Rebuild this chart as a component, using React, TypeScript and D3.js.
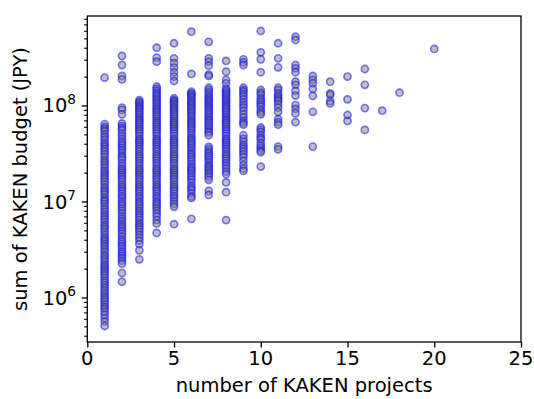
import { useEffect, useRef } from 'react';
import * as d3 from 'd3';

// budgets (JPY) per number of projects
const p1 = [1.95e8, 6.4e7, 6.0e7, 5.7e7, 5.4e7, 5.0e7, 4.7e7, 4.4e7, 4.1e7, 3.9e7, 3.7e7, 3.5e7, 3.3e7, 3.1e7, 2.9e7, 2.7e7, 2.55e7, 2.4e7, 2.25e7, 2.1e7, 2.0e7, 1.9e7, 1.8e7, 1.7e7, 1.6e7, 1.5e7, 1.4e7, 1.32e7, 1.25e7, 1.18e7, 1.1e7, 1.04e7, 1.0e7, 9.4e6, 8.8e6, 8.3e6, 7.8e6, 7.3e6, 6.9e6, 6.5e6, 6.1e6, 5.7e6, 5.4e6, 5.1e6, 4.8e6, 4.5e6, 4.2e6, 4.0e6, 3.8e6, 3.6e6, 3.4e6, 3.2e6, 3.0e6, 2.8e6, 2.65e6, 2.5e6, 2.35e6, 2.2e6, 2.1e6, 2.0e6, 1.9e6, 1.8e6, 1.7e6, 1.6e6, 1.5e6, 1.42e6, 1.34e6, 1.26e6, 1.19e6, 1.12e6, 1.06e6, 1.0e6, 9.5e5, 9.0e5, 8.5e5, 8.0e5, 7.6e5, 7.1e5, 6.6e5, 6.1e5, 5.6e5, 5.05e5];
const p2 = [3.28e8, 2.64e8, 2.03e8, 1.87e8, 9.5e7, 9.0e7, 8.1e7, 6.5e7, 6.1e7, 5.8e7, 5.5e7, 5.1e7, 4.8e7, 4.5e7, 4.2e7, 4.0e7, 3.8e7, 3.6e7, 3.4e7, 3.2e7, 3.0e7, 2.86e7, 2.7e7, 2.5e7, 2.35e7, 2.2e7, 2.1e7, 2.0e7, 1.9e7, 1.8e7, 1.7e7, 1.6e7, 1.5e7, 1.42e7, 1.35e7, 1.28e7, 1.2e7, 1.13e7, 1.07e7, 1.0e7, 9.5e6, 9.0e6, 8.5e6, 8.0e6, 7.5e6, 7.0e6, 6.6e6, 6.2e6, 5.8e6, 5.5e6, 5.2e6, 4.9e6, 4.6e6, 4.3e6, 4.0e6, 3.8e6, 3.6e6, 3.4e6, 3.2e6, 3.0e6, 2.85e6, 2.7e6, 2.55e6, 2.4e6, 2.25e6, 1.8e6, 1.46e6];
const p3 = [1.14e8, 1.09e8, 1.05e8, 1.0e8, 9.6e7, 9.2e7, 8.8e7, 8.4e7, 8.0e7, 7.6e7, 7.2e7, 6.9e7, 6.6e7, 6.3e7, 6.0e7, 5.7e7, 5.4e7, 5.1e7, 4.8e7, 4.5e7, 4.3e7, 4.1e7, 3.9e7, 3.7e7, 3.5e7, 3.3e7, 3.1e7, 2.95e7, 2.8e7, 2.65e7, 2.5e7, 2.35e7, 2.2e7, 2.1e7, 2.0e7, 1.9e7, 1.8e7, 1.7e7, 1.6e7, 1.5e7, 1.42e7, 1.35e7, 1.28e7, 1.2e7, 1.13e7, 1.07e7, 1.0e7, 9.5e6, 9.0e6, 8.5e6, 8.0e6, 7.6e6, 7.2e6, 6.8e6, 6.4e6, 6.0e6, 5.7e6, 5.4e6, 5.1e6, 4.8e6, 4.5e6, 4.2e6, 3.9e6, 3.6e6, 3.1e6, 2.5e6];
const p4 = [4.0e8, 3.15e8, 2.86e8, 1.57e8, 1.49e8, 1.42e8, 1.35e8, 1.29e8, 1.24e8, 1.18e8, 1.13e8, 1.08e8, 1.03e8, 9.8e7, 9.3e7, 8.9e7, 8.5e7, 8.1e7, 7.7e7, 7.3e7, 6.9e7, 6.6e7, 6.3e7, 6.0e7, 5.7e7, 5.4e7, 5.1e7, 4.8e7, 4.5e7, 4.3e7, 4.1e7, 3.9e7, 3.7e7, 3.5e7, 3.3e7, 3.1e7, 2.95e7, 2.8e7, 2.65e7, 2.5e7, 2.35e7, 2.2e7, 2.1e7, 2.0e7, 1.9e7, 1.8e7, 1.7e7, 1.6e7, 1.5e7, 1.42e7, 1.35e7, 1.28e7, 1.2e7, 1.13e7, 1.07e7, 1.0e7, 9.5e6, 9.0e6, 8.5e6, 8.0e6, 7.5e6, 7.0e6, 6.4e6, 5.9e6, 4.7e6];
const p5 = [4.45e8, 3.1e8, 2.76e8, 2.48e8, 2.22e8, 2.0e8, 1.8e8, 1.19e8, 1.14e8, 1.1e8, 1.06e8, 1.02e8, 9.7e7, 9.3e7, 8.9e7, 8.5e7, 8.1e7, 7.7e7, 7.3e7, 6.9e7, 6.6e7, 6.3e7, 6.0e7, 5.7e7, 5.4e7, 5.1e7, 4.8e7, 4.5e7, 4.3e7, 4.1e7, 3.9e7, 3.7e7, 3.5e7, 3.3e7, 3.1e7, 2.95e7, 2.8e7, 2.65e7, 2.5e7, 2.35e7, 2.2e7, 2.1e7, 2.0e7, 1.9e7, 1.8e7, 1.7e7, 1.6e7, 1.5e7, 1.42e7, 1.35e7, 1.28e7, 1.2e7, 1.13e7, 1.07e7, 1.0e7, 9.4e6, 8.8e6, 5.8e6];
const p6 = [5.87e8, 2.13e8, 1.39e8, 1.34e8, 1.3e8, 1.25e8, 1.2e8, 1.15e8, 1.1e8, 1.06e8, 1.02e8, 9.8e7, 9.4e7, 9.0e7, 8.6e7, 8.2e7, 7.8e7, 7.4e7, 7.0e7, 6.7e7, 6.4e7, 6.1e7, 5.8e7, 5.5e7, 5.2e7, 4.9e7, 4.6e7, 4.4e7, 4.2e7, 4.0e7, 3.8e7, 3.6e7, 3.4e7, 3.2e7, 3.05e7, 2.9e7, 2.75e7, 2.6e7, 2.45e7, 2.3e7, 2.2e7, 2.1e7, 2.0e7, 1.89e7, 1.78e7, 1.68e7, 1.57e7, 1.45e7, 1.38e7, 1.32e7, 1.22e7, 1.13e7, 1.09e7, 6.6e6];
const p7 = [4.6e8, 3.1e8, 2.86e8, 2.6e8, 2.1e8, 2.03e8, 1.53e8, 1.45e8, 1.37e8, 1.3e8, 1.24e8, 1.19e8, 1.14e8, 1.1e8, 1.05e8, 1.0e8, 9.6e7, 9.2e7, 8.8e7, 8.4e7, 8.0e7, 7.6e7, 7.2e7, 6.9e7, 6.6e7, 6.3e7, 6.0e7, 5.7e7, 5.4e7, 5.2e7, 4.9e7, 3.7e7, 3.5e7, 3.3e7, 3.15e7, 3.0e7, 2.85e7, 2.7e7, 2.55e7, 2.4e7, 2.3e7, 2.2e7, 2.1e7, 2.0e7, 1.9e7, 1.8e7, 1.68e7, 1.29e7, 1.17e7];
const p8 = [2.91e8, 2.25e8, 1.85e8, 1.7e8, 1.5e8, 1.44e8, 1.38e8, 1.32e8, 1.26e8, 1.2e8, 1.15e8, 1.1e8, 1.05e8, 1.0e8, 9.6e7, 9.2e7, 8.8e7, 8.4e7, 8.0e7, 7.6e7, 7.2e7, 6.9e7, 6.6e7, 6.3e7, 6.0e7, 5.7e7, 5.4e7, 5.1e7, 4.8e7, 4.5e7, 4.3e7, 4.1e7, 3.9e7, 3.7e7, 3.5e7, 3.3e7, 3.1e7, 2.95e7, 2.8e7, 2.65e7, 2.5e7, 2.35e7, 2.2e7, 2.05e7, 1.93e7, 1.58e7, 1.25e7, 6.4e6];
const p9 = [3.03e8, 2.82e8, 2.64e8, 1.53e8, 1.45e8, 1.39e8, 1.31e8, 1.24e8, 1.16e8, 1.08e8, 1.01e8, 9.5e7, 8.8e7, 8.1e7, 7.5e7, 6.9e7, 6.6e7, 6.3e7, 4.9e7, 4.5e7, 4.2e7, 3.9e7, 3.7e7, 3.5e7, 3.3e7, 3.1e7, 2.9e7, 2.65e7, 2.4e7, 2.2e7, 2.08e7];
const p10 = [5.97e8, 3.58e8, 3.03e8, 2.22e8, 1.45e8, 1.36e8, 1.29e8, 1.19e8, 1.13e8, 1.08e8, 1.02e8, 9.7e7, 9.0e7, 8.5e7, 8.1e7, 5.9e7, 5.6e7, 5.3e7, 4.9e7, 4.6e7, 4.4e7, 4.05e7, 3.8e7, 3.6e7, 3.4e7, 3.26e7, 2.31e7];
const p11 = [4.45e8, 3.1e8, 2.5e8, 1.53e8, 1.45e8, 1.34e8, 1.27e8, 1.21e8, 1.16e8, 1.11e8, 1.03e8, 9.5e7, 8.6e7, 7.2e7, 6.7e7, 6.3e7, 3.73e7, 3.5e7];
const p12 = [5.2e8, 4.81e8, 2.64e8, 2.44e8, 2.22e8, 1.77e8, 1.64e8, 1.42e8, 1.27e8, 1.01e8, 9.2e7, 8.3e7, 6.7e7];
const p13 = [2.03e8, 1.85e8, 1.7e8, 1.49e8, 1.26e8, 8.6e7, 3.73e7];
const p14 = [1.77e8, 1.34e8, 1.29e8, 1.11e8, 1.05e8];
const p15 = [2.0e8, 1.16e8, 7.96e7, 6.9e7];
const p16 = [2.4e8, 1.64e8, 9.4e7, 5.56e7];
const p17 = [8.83e7];
const p18 = [1.36e8];
const p19: number[] = [];
const p20 = [3.88e8];

const byCount = [p1, p2, p3, p4, p5, p6, p7, p8, p9, p10, p11, p12, p13, p14, p15, p16, p17, p18, p19, p20];

const xTicks = [0, 5, 10, 15, 20, 25];
const yMajor = [1e6, 1e7, 1e8];

export default function App() {
  const svgRef = useRef<SVGSVGElement>(null);
  const width = 534;
  const height = 399;

  useEffect(() => {
    if (!svgRef.current) return;
    const svg = d3.select(svgRef.current);
    svg.selectAll('*').remove();

    const left = 87.3, right = 521, top = 16, bottom = 342;
    const font = 'DejaVu Sans, sans-serif';
    const fs = 19.5;

    const x = d3.scaleLinear().domain([0, 25]).range([left, right]);
    const y = d3.scaleLog().domain([3.44e5, 8.555e8]).range([bottom, top]);

    const points = byCount.flatMap((vals, i) => vals.map(v => ({ n: i + 1, v })));

    // points
    svg.append('g')
      .selectAll('circle')
      .data(points)
      .enter()
      .append('circle')
      .attr('cx', d => x(d.n))
      .attr('cy', d => y(d.v))
      .attr('r', 3.6)
      .attr('fill', '#808080')
      .attr('fill-opacity', 0.5)
      .attr('stroke', '#0000ff')
      .attr('stroke-opacity', 0.5)
      .attr('stroke-width', 1.6);

    // minor ticks on log axis
    const minor: number[] = [];
    for (let e = 5; e <= 8; e++) {
      for (let k = 2; k <= 9; k++) {
        const v = k * Math.pow(10, e);
        if (v > 3.44e5 && v < 8.555e8) minor.push(v);
      }
    }

    const axisColor = '#000';

    svg.append('g')
      .attr('transform', `translate(${left},0)`)
      .call(d3.axisLeft(y).tickValues(minor).tickSize(3.2).tickFormat(() => ''))
      .call(g => g.select('.domain').remove())
      .call(g => g.selectAll('line').attr('stroke', axisColor).attr('stroke-width', 1.1));

    svg.append('g')
      .attr('transform', `translate(${left},0)`)
      .call(d3.axisLeft(y).tickValues(yMajor).tickSize(5.6).tickFormat(() => ''))
      .call(g => g.select('.domain').remove())
      .call(g => g.selectAll('line').attr('stroke', axisColor).attr('stroke-width', 1.3));

    svg.append('g')
      .attr('transform', `translate(0,${bottom})`)
      .call(d3.axisBottom(x).tickValues(xTicks).tickSize(5.6).tickFormat(() => ''))
      .call(g => g.select('.domain').remove())
      .call(g => g.selectAll('line').attr('stroke', axisColor).attr('stroke-width', 1.3));

    // frame
    svg.append('rect')
      .attr('x', left)
      .attr('y', top)
      .attr('width', right - left)
      .attr('height', bottom - top)
      .attr('fill', 'none')
      .attr('stroke', axisColor)
      .attr('stroke-width', 1.3);

    // x tick labels
    svg.append('g')
      .selectAll('text')
      .data(xTicks)
      .enter()
      .append('text')
      .attr('x', d => x(d))
      .attr('y', 365)
      .attr('text-anchor', 'middle')
      .attr('font-family', font)
      .attr('font-size', fs)
      .attr('fill', '#000')
      .text(d => String(d));

    // y tick labels 10^k
    yMajor.forEach(v => {
      const t = svg.append('text')
        .attr('x', 76)
        .attr('y', y(v) + 7)
        .attr('text-anchor', 'end')
        .attr('font-family', font)
        .attr('font-size', fs)
        .attr('fill', '#000');
      t.append('tspan').text('10');
      t.append('tspan')
        .attr('dy', -8.5)
        .attr('font-size', fs * 0.7)
        .text(String(Math.round(Math.log10(v))));
    });

    // axis labels
    svg.append('text')
      .attr('x', (left + right) / 2)
      .attr('y', 392)
      .attr('text-anchor', 'middle')
      .attr('font-family', font)
      .attr('font-size', fs)
      .attr('fill', '#000')
      .text('number of KAKEN projects');

    svg.append('text')
      .attr('transform', `translate(27,${(top + bottom) / 2}) rotate(-90)`)
      .attr('text-anchor', 'middle')
      .attr('font-family', font)
      .attr('font-size', fs)
      .attr('fill', '#000')
      .text('sum of KAKEN budget (JPY)');
  }, []);

  return (
    <svg
      ref={svgRef}
      width={width}
      height={height}
      style={{ position: 'absolute', left: 0, top: 0, background: '#fff' }}
    />
  );
}
